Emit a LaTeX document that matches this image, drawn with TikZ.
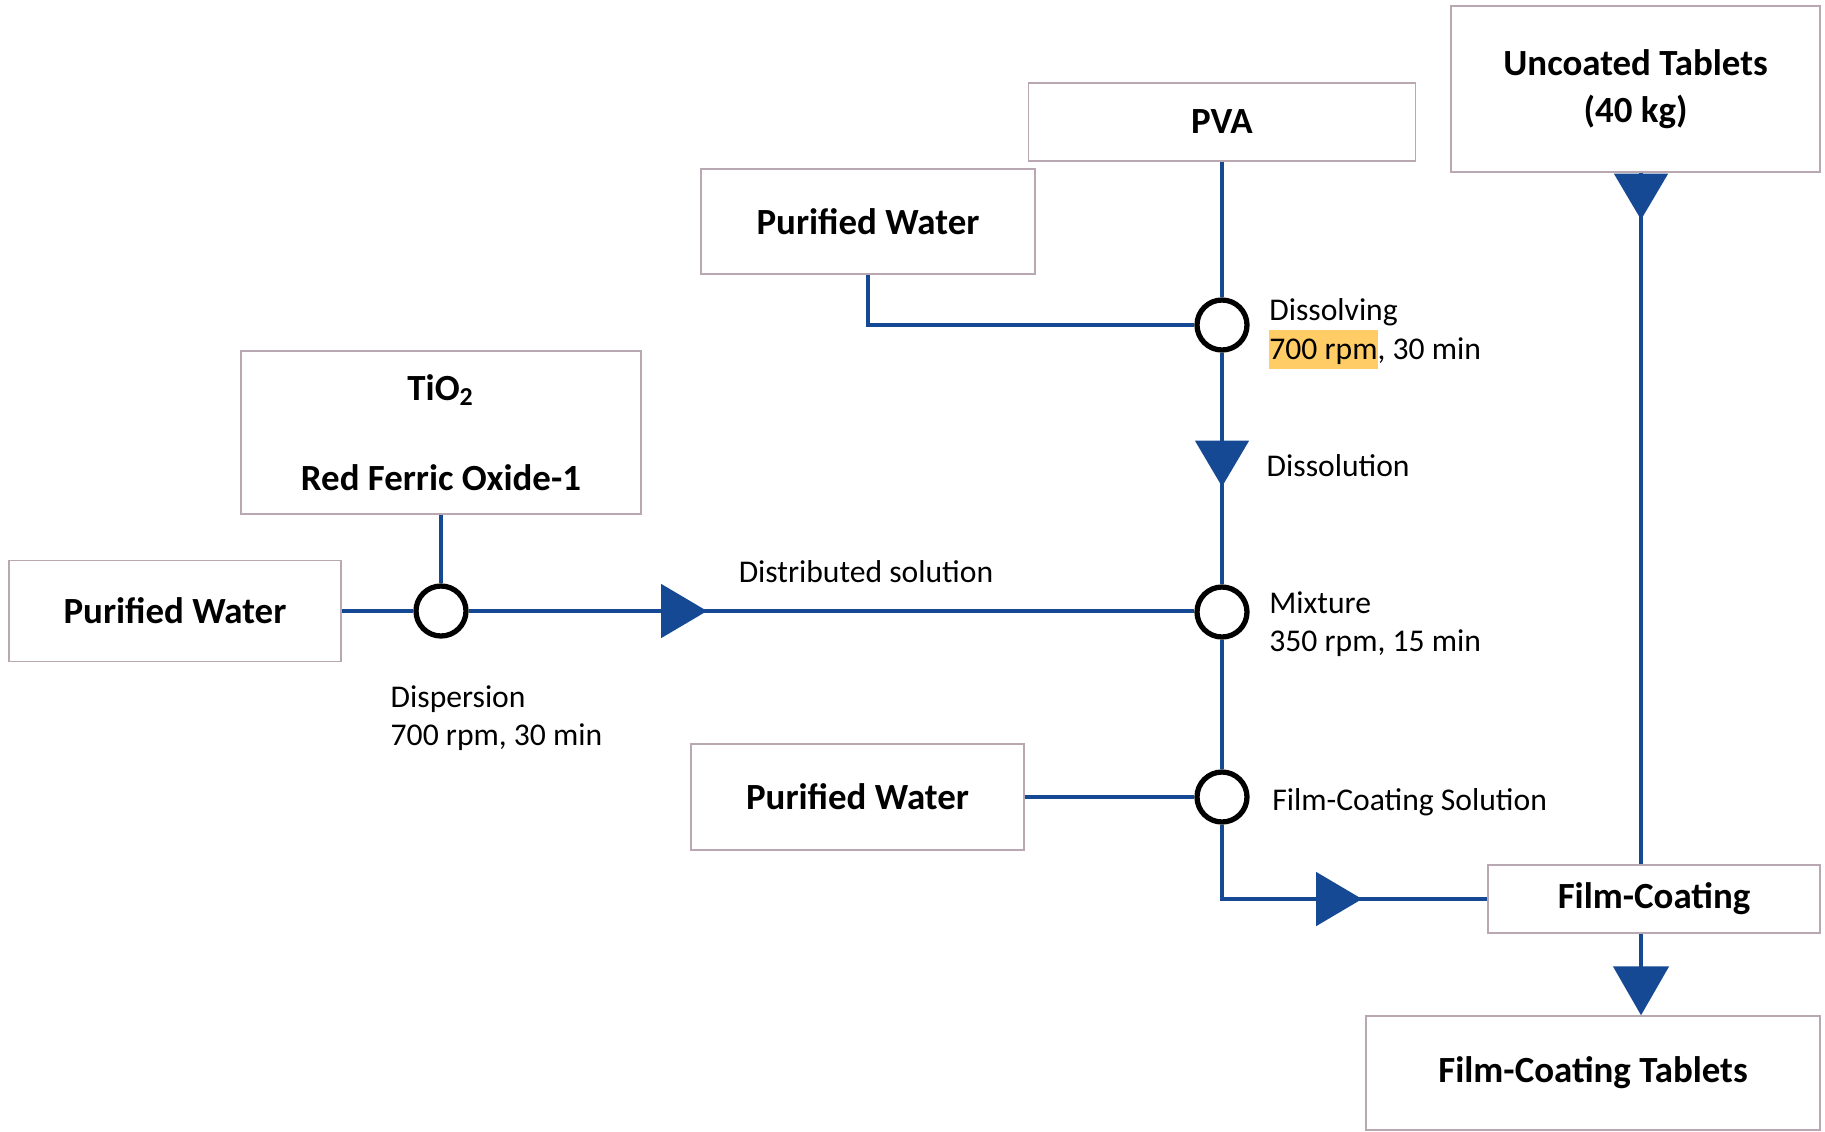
\documentclass[tikz,border=0pt]{standalone}
\usepackage{fontspec}
\setmainfont{Carlito}
\usetikzlibrary{arrows.meta,decorations.markings,positioning}

\definecolor{flowblue}{RGB}{21,73,148}
\definecolor{boxline}{RGB}{185,168,178}
\definecolor{hilight}{RGB}{255,204,102}

\newcommand{\hilite}[1]{{\setlength{\fboxsep}{0pt}\colorbox{hilight}{\rule[-0.32em]{0pt}{1.25em}#1}}}

\tikzset{
    unitbox/.style={draw=boxline, fill=white, inner sep=0pt, align=center,
        font=\bfseries\fontsize{10.5}{13.2}\selectfont},
    mixer/.style={circle, draw=black, line width=1.5pt, fill=white,
        minimum size=0.5cm, inner sep=0pt},
    flow/.style={color=flowblue, line width=1.4pt},
    flowarrow/.style={postaction={decorate}, decoration={markings,
        mark=at position #1 with {\arrow{Triangle[length=0.46cm,width=0.53cm]}}}},
    note/.style={font=\fontsize{9}{10.9}\selectfont, align=left, inner sep=0pt},
}

\begin{document}
\begin{tikzpicture}
        \useasboundingbox (0,0) rectangle (18.25,-11.31);

        % Boxes
        \node[unitbox, minimum width=3.87cm, minimum height=0.78cm] (pva)    at (12.22,-1.22)  {PVA};
        \node[unitbox, minimum width=3.69cm, minimum height=1.66cm] (uncoat) at (16.355,-0.89) {Uncoated Tablets\\(40 kg)};
        \node[unitbox, minimum width=3.34cm, minimum height=1.05cm] (pwtop)  at (8.68,-2.215)  {Purified Water};
        \node[unitbox, minimum width=4.00cm, minimum height=1.63cm] (tio)    at (4.41,-4.325)  {TiO\textsubscript{2}\\[12.5pt]Red Ferric Oxide-1};
        \node[unitbox, minimum width=3.32cm, minimum height=1.01cm] (pwleft) at (1.75,-6.11)   {Purified Water};
        \node[unitbox, minimum width=3.33cm, minimum height=1.06cm] (pwlow)  at (8.575,-7.97)  {Purified Water};
        \node[unitbox, minimum width=3.32cm, minimum height=0.68cm] (coat)   at (16.54,-8.99)  {Film-Coating};
        \node[unitbox, minimum width=4.54cm, minimum height=1.14cm] (tabs)   at (15.93,-10.73) {Film-Coating Tablets};

        % Mixing points
        \node[mixer] (dissolve) at (12.22,-3.25) {};
        \node[mixer] (disperse) at (4.41,-6.11)  {};
        \node[mixer] (mix)      at (12.22,-6.12) {};
        \node[mixer] (fcs)      at (12.22,-7.97) {};
        \coordinate (drop) at (16.41,0);

        % Flow lines
        \draw[flow] (pva) -- (dissolve);
        \draw[flow] (pwtop.south) |- (dissolve);
        \draw[flow, flowarrow=1.34cm] (dissolve) -- (mix);
        \draw[flow] (tio) -- (disperse);
        \draw[flow] (pwleft) -- (disperse);
        \draw[flow, flowarrow=2.385cm] (disperse) -- (disperse -| mix.west);
        \draw[flow] (mix) -- (fcs);
        \draw[flow] (pwlow) -- (fcs);
        \draw[flow, flowarrow=2.145cm] (fcs) |- (coat);
        \draw[flow, flowarrow=0.47cm] (uncoat.south -| drop) -- (coat.north -| drop);
        \draw[flow, -{Triangle[length=0.49cm,width=0.55cm]}] (coat.south -| drop) -- (tabs.north -| drop);

        % Step notes
        \node[note, right=0.19cm of dissolve, yshift=-0.09cm] (dissolvenote) {Dissolving\\\hilite{700 rpm}, 30 min};
        \node[note, anchor=west] (dissolution) at (12.66,-4.66) {Dissolution};
        \node[note] (distnote) at (8.66,-5.72) {Distributed solution};
        \node[note, right=0.19cm of mix, yshift=-0.12cm] (mixnote) {Mixture\\350 rpm, 15 min};
        \node[note, anchor=west] (dispnote) at (3.90,-7.18) {Dispersion\\700 rpm, 30 min};
        \node[note, right=0.22cm of fcs, yshift=-0.05cm] (fcsnote) {Film-Coating Solution};
\end{tikzpicture}
\end{document}
